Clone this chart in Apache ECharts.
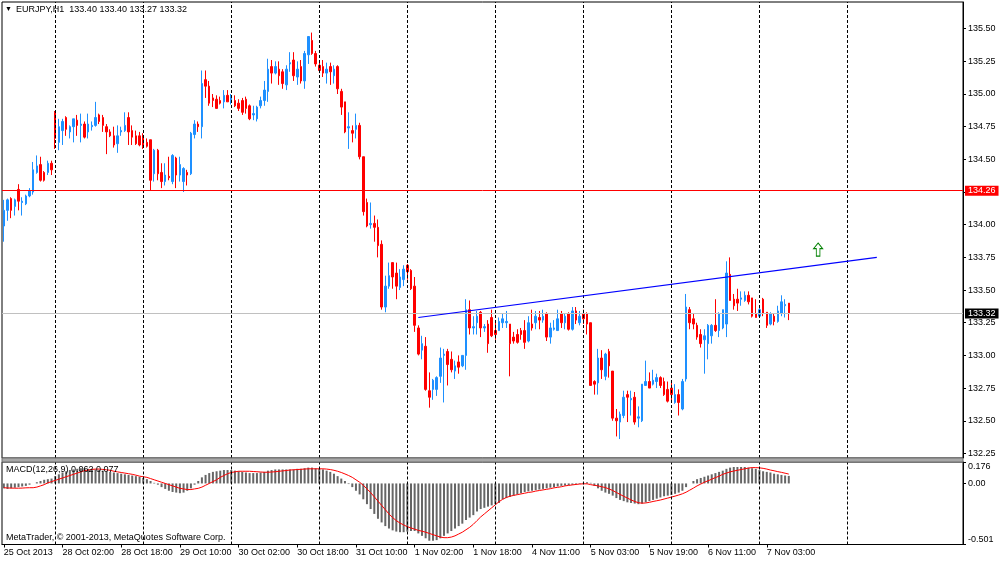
<!DOCTYPE html>
<html lang="en">
<head>
<meta charset="UTF-8">
<title>EURJPY,H1</title>
<script src="https://cdn.jsdelivr.net/npm/echarts@6/dist/echarts.min.js"></script>
<style>
    html, body { margin: 0; padding: 0; background: #fff; }
    #chart { width: 1000px; height: 562px; }
</style>
</head>
<body>
<div id="chart"></div>
<script>
    // hourly bars, 25 Oct 10:00 .. 7 Nov 09:00
    var openPrice = [
        133.99,134.11,134.20,134.14,134.27,134.17,134.16,134.22,134.25,134.40,
        134.46,134.40,134.40,134.47,134.86,134.63,134.72,134.82,134.71,134.75,
        134.80,134.76,134.77,134.71,134.75,134.76,134.84,134.82,134.75,134.71,
        134.68,134.62,134.71,134.72,134.82,134.72,134.68,134.68,134.68,134.63,
        134.65,134.39,134.57,134.40,134.33,134.37,134.33,134.51,134.38,134.33,
        134.40,134.39,134.69,134.77,134.75,135.11,135.06,134.97,134.96,134.95,
        134.94,134.99,134.95,134.95,134.93,134.95,134.96,134.91,134.84,134.81,
        134.91,134.95,135.02,135.21,135.16,135.19,135.17,135.07,135.23,135.26,
        135.13,135.21,135.10,135.30,135.41,135.31,135.22,135.21,135.16,135.21,
        135.14,135.21,135.02,134.94,134.74,134.72,134.73,134.76,134.52,134.17,
        134.00,134.01,133.98,133.85,133.37,133.53,133.71,133.63,133.52,133.58,
        133.69,133.65,133.53,133.21,133.04,133.07,132.73,132.74,132.74,132.84,
        133.00,133.03,132.97,132.88,132.95,132.92,133.00,133.35,133.21,133.25,
        133.33,133.21,133.24,133.29,133.19,133.19,133.25,133.25,133.24,133.14,
        133.16,133.19,133.19,133.11,133.24,133.25,133.29,133.27,133.32,133.14,
        133.20,133.19,133.32,133.25,133.32,133.20,133.34,133.25,133.32,133.32,
        133.25,132.80,132.79,132.98,132.84,133.03,132.88,132.52,132.49,132.54,
        132.70,132.66,132.68,132.52,132.50,132.77,132.80,132.78,132.80,132.83,
        132.80,132.74,132.75,132.64,132.70,132.59,132.82,133.35,133.28,133.23,
        133.16,133.12,133.09,133.15,133.23,133.19,133.21,133.24,133.62,133.43,
        133.43,133.43,133.42,133.46,133.44,133.32,133.30,133.43,133.33,133.24,
        133.30,133.26,133.32,133.38,133.40
    ];
    var highPrice = [
        134.19,134.20,134.21,134.20,134.31,134.21,134.23,134.28,134.48,134.53,
        134.52,134.41,134.49,134.49,134.87,134.81,134.81,134.83,134.76,134.81,
        134.84,134.85,134.79,134.85,134.79,134.94,134.85,134.84,134.77,134.73,
        134.75,134.76,134.75,134.86,134.86,134.76,134.72,134.71,134.70,134.66,
        134.65,134.58,134.58,134.47,134.47,134.52,134.54,134.52,134.52,134.44,
        134.42,134.71,134.80,134.79,135.18,135.18,135.10,135.00,134.99,134.98,
        135.03,135.03,135.00,134.99,134.96,134.97,134.98,134.92,134.91,134.91,
        134.98,135.10,135.27,135.26,135.25,135.25,135.19,135.22,135.32,135.32,
        135.25,135.26,135.33,135.44,135.47,135.33,135.26,135.26,135.24,135.24,
        135.22,135.22,135.04,134.94,134.86,134.76,134.85,134.78,134.52,134.20,
        134.17,134.07,134.04,133.88,133.61,133.71,133.71,133.71,133.66,133.69,
        133.70,133.66,133.60,133.23,133.15,133.14,132.87,132.82,132.84,133.06,
        133.05,133.05,133.03,132.96,133.00,133.00,133.43,133.42,133.30,133.34,
        133.34,133.24,133.27,133.35,133.26,133.29,133.32,133.34,133.24,133.18,
        133.20,133.21,133.27,133.30,133.35,133.34,133.34,133.35,133.33,133.25,
        133.27,133.35,133.34,133.32,133.33,133.37,133.37,133.34,133.35,133.33,
        133.25,132.81,133.05,133.04,133.02,133.05,132.88,132.59,132.57,132.73,
        132.73,132.73,132.72,132.61,132.78,132.96,132.87,132.89,132.86,132.84,
        132.83,132.80,132.80,132.78,132.74,132.82,133.47,133.37,133.32,133.25,
        133.20,133.20,133.24,133.24,133.43,133.33,133.35,133.72,133.75,133.47,
        133.51,133.49,133.49,133.49,133.44,133.43,133.38,133.44,133.33,133.33,
        133.32,133.38,133.46,133.43,133.40
    ];
    var lowPrice = [
        133.87,134.03,134.05,134.07,134.11,134.07,134.15,134.21,134.23,134.39,
        134.33,134.33,134.38,134.38,134.58,134.57,134.61,134.68,134.66,134.63,
        134.68,134.63,134.66,134.66,134.72,134.75,134.77,134.71,134.54,134.67,
        134.59,134.55,134.68,134.71,134.61,134.61,134.61,134.60,134.58,134.59,
        134.26,134.33,134.34,134.28,134.30,134.34,134.31,134.28,134.33,134.25,
        134.30,134.38,134.66,134.71,134.66,134.97,134.91,134.90,134.89,134.92,
        134.89,134.94,134.92,134.90,134.87,134.84,134.85,134.80,134.80,134.79,
        134.89,134.91,134.94,135.08,135.15,135.07,135.04,135.03,135.17,135.10,
        135.07,135.08,135.04,135.23,135.30,135.21,135.16,135.13,135.08,135.07,
        135.08,135.00,134.84,134.70,134.58,134.63,134.66,134.50,134.07,133.98,
        133.97,133.87,133.75,133.35,133.33,133.51,133.51,133.43,133.50,133.53,
        133.58,133.50,133.18,133.00,132.97,132.73,132.60,132.66,132.69,132.79,
        132.64,132.77,132.87,132.82,132.86,132.91,132.89,133.16,133.16,133.16,
        133.14,133.18,133.02,133.14,133.12,133.19,133.21,133.21,132.84,133.09,
        133.09,133.12,133.05,133.10,133.19,133.20,133.20,133.25,133.11,133.09,
        133.19,133.19,133.21,133.20,133.19,133.19,133.24,133.23,133.24,133.16,
        132.77,132.70,132.70,132.82,132.81,132.83,132.50,132.38,132.36,132.52,
        132.49,132.54,132.47,132.45,132.49,132.77,132.75,132.77,132.75,132.75,
        132.69,132.64,132.65,132.63,132.54,132.58,132.80,133.20,133.20,133.12,
        133.06,132.86,132.97,133.09,133.18,133.14,133.20,133.14,133.42,133.35,
        133.34,133.38,133.41,133.39,133.29,133.29,133.29,133.30,133.21,133.23,
        133.23,133.25,133.30,133.29,133.27
    ];
    var closePrice = [
        134.11,134.19,134.11,134.19,134.18,134.18,134.22,134.26,134.42,134.45,
        134.34,134.34,134.47,134.42,134.66,134.75,134.79,134.73,134.75,134.81,
        134.76,134.77,134.67,134.77,134.76,134.82,134.79,134.76,134.71,134.68,
        134.61,134.68,134.72,134.76,134.71,134.67,134.62,134.61,134.60,134.60,
        134.34,134.57,134.39,134.33,134.38,134.36,134.53,134.38,134.46,134.43,
        134.38,134.70,134.77,134.75,135.08,135.06,134.93,134.95,134.89,134.93,
        134.99,134.94,134.98,134.91,134.89,134.86,134.89,134.81,134.85,134.90,
        134.95,135.03,135.19,135.16,135.21,135.14,135.08,135.19,135.24,135.14,
        135.19,135.10,135.31,135.44,135.31,135.23,135.18,135.16,135.19,135.17,
        135.19,135.04,134.90,134.71,134.75,134.70,134.76,134.52,134.10,133.99,
        134.01,133.98,133.84,133.37,133.53,133.61,133.60,133.53,133.60,133.66,
        133.64,133.51,133.23,133.01,133.09,132.74,132.68,132.81,132.83,132.98,
        133.01,132.93,132.89,132.92,132.91,133.00,133.35,133.21,133.22,133.30,
        133.21,133.22,133.09,133.15,133.16,133.26,133.28,133.26,133.09,133.11,
        133.10,133.16,133.10,133.25,133.21,133.30,133.27,133.30,133.14,133.21,
        133.21,133.28,133.25,133.30,133.20,133.34,133.27,133.30,133.28,133.24,
        132.77,132.78,132.98,132.89,133.01,132.92,132.52,132.50,132.55,132.68,
        132.68,132.67,132.49,132.53,132.78,132.80,132.75,132.81,132.83,132.77,
        132.70,132.65,132.70,132.70,132.64,132.80,133.37,133.25,133.24,133.14,
        133.09,133.15,133.23,133.23,133.19,133.32,133.35,133.63,133.42,133.38,
        133.40,133.44,133.46,133.41,133.30,133.29,133.35,133.32,133.23,133.32,
        133.26,133.34,133.41,133.39,133.32
    ];

    // MACD(12,26,9): main line (histogram) and signal
    var macdMain = [
        -0.04,-0.045,-0.04,-0.035,-0.03,-0.025,-0.02,-0.01,
        0.0,0.01,0.02,0.03,0.035,0.04,
        0.06,0.075,0.09,0.1,0.11,0.115,0.12,0.125,
        0.125,0.12,0.12,0.115,0.11,0.105,0.1,0.095,0.09,
        0.085,0.08,0.075,0.07,0.065,0.06,0.055,
        0.045,0.035,0.02,0.005,-0.01,
        -0.03,-0.045,-0.06,-0.07,-0.075,-0.08,-0.075,
        -0.06,-0.04,-0.01,0.02,
        0.05,0.07,0.085,0.095,0.1,0.105,0.11,0.11,0.11,
        0.105,0.1,0.095,0.09,0.085,0.085,0.085,0.09,0.095,
        0.105,0.11,0.115,0.115,0.115,0.115,0.115,0.115,0.12,0.12,0.125,0.13,0.13,0.125,0.12,
        0.115,0.105,0.095,0.08,0.06,0.04,0.02,
        -0.005,-0.03,-0.06,
        -0.09,-0.13,-0.17,-0.21,-0.25,-0.29,-0.32,-0.35,-0.37,
        -0.385,-0.395,-0.4,-0.4,-0.395,-0.39,-0.39,
        -0.41,-0.43,-0.45,-0.47,-0.47,-0.465,-0.45,
        -0.43,-0.41,-0.39,-0.37,-0.35,-0.33,-0.3,-0.28,
        -0.26,-0.23,-0.21,-0.2,-0.19,-0.18,-0.17,-0.16,
        -0.13,-0.12,-0.11,-0.1,-0.09,-0.08,-0.07,-0.065,
        -0.06,-0.055,-0.05,-0.045,-0.04,-0.035,-0.03,-0.025,-0.02,-0.017,-0.014,-0.011,-0.008,-0.005,
        0.005,0.01,0.005,
        -0.02,-0.04,-0.06,-0.075,-0.085,-0.1,-0.12,-0.135,-0.145,-0.155,-0.16,-0.165,-0.17,
        -0.165,-0.155,-0.145,-0.135,-0.125,-0.115,-0.105,-0.1,-0.095,-0.085,-0.075,-0.06,-0.03,
        0.0,0.02,0.035,0.045,0.055,0.065,0.075,
        0.085,0.095,0.105,0.12,0.13,0.135,0.135,0.135,0.135,0.13,0.125,0.12,
        0.11,0.1,0.095,0.09,0.08,0.075,0.07,0.065,0.062
    ];
    var macdSignal = [
        -0.035,-0.037,-0.038,-0.039,-0.039,-0.038,-0.036,-0.035,-0.035,-0.03,-0.02,-0.01,0.005,0.015,
        0.025,0.035,0.045,0.055,0.065,0.075,0.085,0.095,0.105,0.11,0.115,0.118,0.118,
        0.115,0.112,0.108,0.1,0.095,0.09,0.085,0.08,0.075,0.068,0.06,0.055,0.05,
        0.04,0.03,0.02,0.01,0.0,-0.01,-0.02,-0.03,-0.04,-0.045,-0.05,-0.05,-0.045,
        -0.04,-0.03,-0.015,0.0,0.015,0.03,0.05,0.065,0.08,0.09,0.095,0.1,0.1,
        0.1,0.1,0.098,0.096,0.094,0.092,0.092,0.094,0.096,0.1,0.103,0.106,0.11,
        0.112,0.114,0.116,0.118,0.12,0.12,0.12,0.12,0.12,0.118,0.114,0.108,0.1,
        0.09,0.078,0.065,0.05,0.03,0.01,-0.015,-0.045,-0.075,-0.11,-0.145,-0.18,-0.215,
        -0.25,-0.28,-0.305,-0.325,-0.34,-0.355,-0.365,-0.375,-0.385,-0.392,-0.4,-0.41,-0.42,
        -0.43,-0.44,-0.445,-0.445,-0.44,-0.43,-0.415,-0.4,-0.38,-0.36,-0.335,-0.305,-0.275,
        -0.25,-0.225,-0.2,-0.175,-0.15,-0.13,-0.115,-0.105,-0.098,-0.092,-0.086,-0.08,-0.074,
        -0.07,-0.063,-0.058,-0.053,-0.048,-0.043,-0.036,-0.032,-0.027,-0.02,-0.016,-0.012,-0.008,
        -0.005,-0.003,-0.003,-0.01,-0.015,-0.02,-0.027,-0.034,-0.045,-0.058,-0.074,-0.09,-0.105,
        -0.12,-0.135,-0.148,-0.158,-0.162,-0.16,-0.155,-0.148,-0.142,-0.136,-0.128,-0.12,-0.112,
        -0.104,-0.095,-0.085,-0.072,-0.055,-0.038,-0.02,-0.005,0.01,0.022,0.035,0.048,0.06,
        0.075,0.085,0.095,0.102,0.108,0.114,0.12,0.126,0.13,0.13,0.128,0.124,0.118,
        0.11,0.104,0.097,0.091,0.084,0.077
    ];

    // one label every 16 bars, starting at bar 0
    var timeLabels = ['25 Oct 2013', '28 Oct 02:00', '28 Oct 18:00', '29 Oct 10:00', '30 Oct 02:00',
        '30 Oct 18:00', '31 Oct 10:00', '1 Nov 02:00', '1 Nov 18:00', '4 Nov 11:00',
        '5 Nov 03:00', '5 Nov 19:00', '6 Nov 11:00', '7 Nov 03:00'];
    var labelStep = 16;
    var priceTicks = [132.25, 132.50, 132.75, 133.00, 133.25, 133.50, 133.75,
        134.00, 134.25, 134.50, 134.75, 135.00, 135.25, 135.50];
    var macdTicks = [0.176, 0, -0.501];
    var gridBars = [14, 38, 62, 86, 110, 134, 158, 182, 206, 230];

    var redLevel = 134.26;
    var bidLevel = 133.32;
    var trendStart = [113, 133.29];
    var trendEnd = [238, 133.75];
    var arrowAt = [222, 133.81];

    var priceMin = 132.215, priceMax = 135.704;
    var slotCount = 262;
    var fontName = 'Liberation Sans';

    var cats = [];
    for (var i = 0; i < slotCount; i++) {
        cats.push(String(i));
    }
    var candles = openPrice.map(function (o, k) {
        return [o, closePrice[k], lowPrice[k], highPrice[k]];
    });

    function isLabelSlot(k) {
        return k % labelStep === 0 && k / labelStep < timeLabels.length;
    }

    function dashedVerticals() {
        return gridBars.map(function (b) {
            return {xAxis: b, label: {show: false}, lineStyle: {color: '#000', width: 1, type: [3, 2]}};
        });
    }

    function levelLabel(bg) {
        return {
            show: true, position: 'end', distance: 2,
            formatter: function (p) { return p.value.toFixed(2); },
            color: '#fff', backgroundColor: bg, padding: [1, 3, 0, 3],
            fontSize: 9, fontFamily: fontName, lineHeight: 9
        };
    }

    var near = function (a, b) { return Math.abs(a - b) < 1e-6; };

    var option = {
        animation: false,
        backgroundColor: '#fff',
        textStyle: {fontFamily: fontName},
        title: [
            {text: '\u25BC', left: 5, top: 6, padding: 0, textStyle: {fontSize: 7, color: '#000', fontWeight: 'normal'}},
            {text: 'EURJPY,H1  133.40 133.40 133.27 133.32', left: 16, top: 5, padding: 0,
                textStyle: {fontSize: 9, color: '#000', fontWeight: 'normal', fontFamily: fontName}},
            {text: 'MACD(12,26,9) 0.062 0.077', left: 6, top: 465, padding: 0,
                textStyle: {fontSize: 9, color: '#000', fontWeight: 'normal', fontFamily: fontName}},
            {text: 'MetaTrader, \u00A9 2001-2013, MetaQuotes Software Corp.', left: 6, top: 533, padding: 0,
                textStyle: {fontSize: 9, color: '#000', fontWeight: 'normal', fontFamily: fontName}}
        ],
        graphic: [
            {type: 'rect', silent: true, z: 10, shape: {x: 2, y: 458, width: 961, height: 4},
                style: {fill: '#a8a8a8', stroke: '#707070', lineWidth: 1}}
        ],
        grid: [
            {left: 2, right: 37, top: 2, height: 456, show: true, borderColor: '#000', borderWidth: 1,
                containLabel: false, outerBoundsMode: 'none'},
            {left: 2, right: 37, top: 462, height: 82.5, show: true, borderColor: '#000', borderWidth: 1,
                containLabel: false, outerBoundsMode: 'none'}
        ],
        xAxis: [
            {
                gridIndex: 0, type: 'category', data: cats, boundaryGap: true,
                axisLine: {show: false}, axisTick: {show: false}, axisLabel: {show: false}, splitLine: {show: false}
            },
            {
                gridIndex: 1, type: 'category', data: cats, boundaryGap: true, position: 'bottom',
                axisLine: {show: true, onZero: false, lineStyle: {color: '#000'}},
                axisTick: {show: true, alignWithLabel: true, length: 3, lineStyle: {color: '#000'},
                    interval: function (k) { return isLabelSlot(k); }},
                axisLabel: {
                    interval: function (k) { return isLabelSlot(k); },
                    formatter: function (v, k) { return timeLabels[k / labelStep]; },
                    align: 'left', color: '#000', fontSize: 9, margin: 4, fontFamily: fontName
                },
                splitLine: {show: false}
            }
        ],
        yAxis: [
            {
                gridIndex: 0, type: 'value', position: 'right', min: priceMin, max: priceMax,
                axisLine: {show: true, lineStyle: {color: '#000'}},
                axisTick: {show: true, customValues: priceTicks, length: 3, lineStyle: {color: '#000'}},
                axisLabel: {customValues: priceTicks, color: '#000', fontSize: 9, margin: 5, fontFamily: fontName,
                    formatter: function (v) { return v.toFixed(2); }},
                splitLine: {show: false}
            },
            {
                gridIndex: 1, type: 'value', position: 'right', min: macdTicks[2], max: macdTicks[0],
                axisLine: {show: true, lineStyle: {color: '#000'}},
                axisTick: {show: true, customValues: macdTicks, length: 3, lineStyle: {color: '#000'}},
                axisLabel: {
                    customValues: macdTicks, color: '#000', fontSize: 9, margin: 5, fontFamily: fontName,
                    formatter: function (v) {
                        if (near(v, macdTicks[0])) return '{top|' + v.toFixed(3) + '}';
                        if (near(v, macdTicks[2])) return '{bot|' + v.toFixed(3) + '}';
                        return '0.00';
                    },
                    rich: {
                        top: {padding: [10, 0, 0, 0], fontSize: 9, color: '#000', fontFamily: fontName},
                        bot: {padding: [0, 0, 10, 0], fontSize: 9, color: '#000', fontFamily: fontName}
                    }
                },
                splitLine: {show: false}
            }
        ],
        series: [
            {
                name: 'EURJPY', type: 'candlestick', xAxisIndex: 0, yAxisIndex: 0,
                data: candles, barWidth: 2,
                itemStyle: {color: '#1e90ff', color0: '#ff0000', borderColor: '#1e90ff', borderColor0: '#ff0000',
                    borderColorDoji: '#1e90ff', borderWidth: 1},
                markLine: {
                    silent: true, symbol: ['none', 'none'], animation: false,
                    data: dashedVerticals().concat([
                        {yAxis: redLevel, lineStyle: {color: '#ff0000', width: 1, type: 'solid'}, label: levelLabel('#ff0000')},
                        {yAxis: bidLevel, lineStyle: {color: '#c0c0c0', width: 1, type: 'solid'}, label: levelLabel('#000')},
                        [
                            {coord: trendStart, lineStyle: {color: '#0000ff', width: 1.2, type: 'solid'}, label: {show: false}},
                            {coord: trendEnd}
                        ]
                    ])
                },
                markPoint: {
                    silent: true,
                    symbol: 'path://M5,0L10,6L7,6L7,14L3,14L3,6L0,6Z',
                    symbolSize: [9, 13],
                    itemStyle: {color: '#fff', borderColor: '#008000', borderWidth: 1},
                    label: {show: false},
                    data: [{coord: arrowAt}]
                }
            },
            {
                name: 'MACD', type: 'bar', xAxisIndex: 1, yAxisIndex: 1,
                data: macdMain, barWidth: 2,
                itemStyle: {color: '#666666'},
                markLine: {silent: true, symbol: ['none', 'none'], animation: false, data: dashedVerticals()}
            },
            {
                name: 'Signal', type: 'line', xAxisIndex: 1, yAxisIndex: 1,
                data: macdSignal, symbol: 'none', smooth: false,
                lineStyle: {color: '#ff0000', width: 1}
            }
        ]
    };

    var myChart = echarts.init(document.getElementById('chart'));
    myChart.setOption(option);
</script>
</body>
</html>
